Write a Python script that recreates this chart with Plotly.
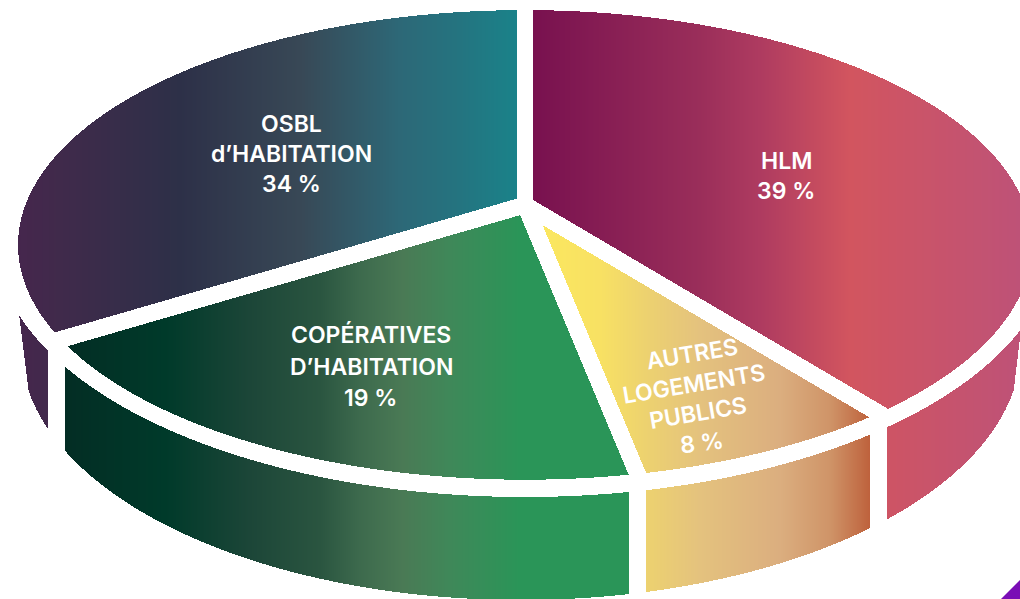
import numpy as np
import plotly.graph_objects as go

# slices clockwise from the top of the pie
names = ["HLM", "Autres logements publics", "Coopératives d'habitation", "OSBL d'habitation"]
shares = [39.5, 7.5, 19.0, 34.0]

# horizontal gradient of each slice: pixel column, colour
grad_x = [
    [533, 700, 760, 850, 1020],
    [541, 600, 645, 700, 780, 830, 872],
    [64, 165, 250, 320, 360, 403, 450, 520, 628],
    [16, 60, 180, 300, 400, 460, 516],
]
grad_colors = [
    ["#78114f", "#9a2e5a", "#ae3b60", "#d2555f", "#be5277"],
    ["#fbe75f", "#f8e163", "#edd26f", "#e4c27e", "#dbae7f", "#cf9468", "#bd5f3a"],
    ["#032d24", "#003a2a", "#1c4638", "#2a5540", "#3d6a4d", "#4a7a55", "#3f8859", "#2a9558", "#2a9558"],
    ["#46264d", "#402a4b", "#2d3048", "#384856", "#2d6877", "#247480", "#1a8289"],
]

# label lines: text, x, y, size, angle
label_text = ["HLM", "39 %", "AUTRES", "LOGEMENTS", "PUBLICS", "8 %",
              "COPÉRATIVES", "D’HABITATION", "19 %", "OSBL", "d’HABITATION", "34 %"]
label_x = [786, 786, 692, 694, 698, 702, 371, 371, 370, 291, 291, 291]
label_y = [161, 191, 354, 384, 413, 443, 335, 367, 398, 124, 154, 184]
label_size = [23, 23, 23, 23, 23, 23, 23, 23, 23, 23, 23, 23]
label_angle = [0, 0, -9.5, -9.5, -9.5, -7, 0, 0, 0, 0, 0, 0]

corner_x = [1001, 1020, 1020]
corner_y = [599, 580, 599]

W, H = 1020, 599
GAP = 8.4

# perspective disc of the top face
CX, CY, A, B, K = 525.0, 205.0, 499.6, 228.0, 0.17
# lower rim of the white band and foot of the wall
WALL_TOP = (525.0, 238.0, 530.0, 259.0)
WALL_FOOT = (521.0, 347.0, 500.0, 253.0)
wall_nudge = [0, 0, -4]


def project(deg):
    t = np.radians(deg)
    u, v = np.sin(t), np.cos(t)
    w = 1 + K * v
    return CX + A * u / w, CY - B * v / w


def arc(x, e):
    cx, cy, a, b = e
    s = np.sqrt(np.clip(1 - ((x - cx) / a) ** 2, 0, None))
    return cy + b * s


xs = np.arange(W) + 0.5
ys = np.arange(H) + 0.5
X, Y = np.meshgrid(xs, ys)

# back to disc coordinates
p = (X - CX) / A
q = -(Y - CY) / B
w = 1 / (1 - K * q)
U, V = p * w, q * w
R = np.hypot(U, V)
TH = np.degrees(np.arctan2(U, V)) % 360

cuts = np.cumsum([0] + shares) / sum(shares) * 360


def ray_dist(deg):
    px, py = project(deg)
    n = np.hypot(px - CX, py - CY)
    return np.abs((X - CX) * (py - CY) - (Y - CY) * (px - CX)) / n


seams = [project(c)[0] + n for c, n in zip(cuts[1:4], wall_nudge)]
seam_hi = [W + 99, seams[0] - GAP, seams[1] - GAP, seams[2] - GAP]
seam_lo = [seams[0] + GAP, seams[1] + GAP, seams[2] + GAP, -99]

wall = (Y > arc(X, WALL_TOP)) & (Y < arc(X, WALL_FOOT)) | ((Y > arc(X, WALL_TOP)) & (X < 28) & (Y < 386))
wall &= X > 19 + 0.125 * (Y - 314)
wall &= X < 1017 - 0.12 * (Y - 363)
wall &= Y > 250

fig = go.Figure()
for i in range(len(shares)):
    top = (R <= 1) & (TH >= cuts[i]) & (TH < cuts[i + 1])
    top &= (ray_dist(cuts[i]) > GAP) & (ray_dist(cuts[i + 1]) > GAP)
    side = wall & (X > seam_lo[i]) & (X < seam_hi[i])
    z = np.where(top | side, X, np.nan).astype("float32")
    x0, x1 = grad_x[i][0], grad_x[i][-1]
    scale = [[(g - x0) / (x1 - x0), c] for g, c in zip(grad_x[i], grad_colors[i])]
    fig.add_trace(go.Heatmap(x=xs, y=ys, z=z, zmin=x0, zmax=x1, colorscale=scale,
                             showscale=False, hoverinfo="skip", name=names[i]))

fig.add_trace(go.Scatter(x=corner_x, y=corner_y, fill="toself", mode="none",
                         fillcolor="#7a0db5", hoverinfo="skip", showlegend=False))

for t, lx, ly, sz, ang in zip(label_text, label_x, label_y, label_size, label_angle):
    fig.add_annotation(x=lx, y=ly, text=t, showarrow=False, textangle=ang,
                       xanchor="center", yanchor="middle",
                       font=dict(family="Inter", size=sz, color="white", weight=600))

fig.update_layout(width=W, height=H, margin=dict(l=0, r=0, t=0, b=0),
                  plot_bgcolor="white", paper_bgcolor="white", showlegend=False,
                  xaxis=dict(range=[0, W], visible=False, fixedrange=True),
                  yaxis=dict(range=[H, 0], visible=False, fixedrange=True))
fig.write_html("out.html", config={"displayModeBar": False},
               post_script="document.body.style.margin='0';document.body.style.overflow='hidden';")
